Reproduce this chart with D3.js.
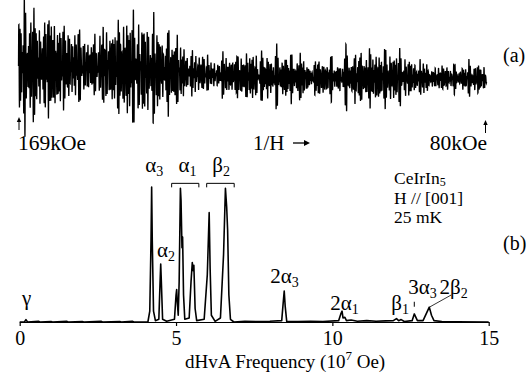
<!DOCTYPE html>
<html>
<head>
<meta charset="utf-8">
<script src="https://cdn.jsdelivr.net/npm/d3@7"></script>
<style>
	body { margin: 0; background: #fff; }
	text { font-family: "Liberation Serif", "Times New Roman", serif; fill: #000; }
</style>
</head>
<body>
<svg id="fig" width="532" height="375"></svg>
<script>
// ---- panel (b): dHvA spectrum (freq in 10^7 Oe, amplitude relative) ----
const specFreq = [0, 0.15, 0.2, 0.25, 0.6, 0.65, 1.0, 1.05, 1.5, 1.55, 2.0, 2.05, 2.6, 2.65, 3.2, 3.25, 3.6, 3.65,
	4.10, 4.16, 4.20, 4.22, 4.24, 4.28, 4.34, 4.45, 4.49, 4.51, 4.53, 4.57, 4.70, 4.95, 5.00, 5.02, 5.04, 5.07,
	5.10, 5.14, 5.16, 5.19, 5.21, 5.24, 5.28, 5.42, 5.48, 5.52, 5.55, 5.57, 5.61, 5.66, 5.90, 6.00, 6.06, 6.09,
	6.13, 6.25, 6.42, 6.52, 6.58, 6.62, 6.65, 6.69, 6.74, 6.85, 7.2, 7.6, 8.0, 8.38, 8.43, 8.46, 8.49, 8.54,
	8.9, 9.3, 9.7, 10.2, 10.27, 10.31, 10.34, 10.4, 10.45, 10.6, 10.8, 11.1, 11.4, 11.7, 11.95, 12.05, 12.12,
	12.2, 12.3, 12.55, 12.62, 12.66, 12.72, 12.9, 13.0, 13.1, 13.17, 13.25, 13.5, 14.0, 15.0];
const specAmp = [0, 0, 0.018, 0, 0.005, 0, 0.004, 0, 0.005, 0, 0.004, 0, 0.005, 0, 0.004, 0, 0.006, 0,
	0, 0.08, 0.6, 1.0, 0.6, 0.08, 0.01, 0.02, 0.3, 0.43, 0.3, 0.02, 0.005, 0.02, 0.2, 0.24, 0.15, 0.05,
	0.3, 0.99, 0.9, 0.55, 0.63, 0.2, 0.02, 0.03, 0.3, 0.44, 0.38, 0.42, 0.1, 0.01, 0.02, 0.35, 0.81, 0.4,
	0.05, 0.005, 0.03, 0.5, 0.99, 0.85, 0.68, 0.2, 0.02, 0, 0.005, 0.003, 0.005, 0.01, 0.15, 0.23, 0.12, 0.005,
	0.004, 0.006, 0.004, 0.01, 0.06, 0.08, 0.03, 0.035, 0.01, 0.015, 0.006, 0.01, 0.006, 0.008, 0.01, 0.025, 0.01,
	0.018, 0.004, 0.01, 0.06, 0.04, 0.01, 0.01, 0.06, 0.11, 0.05, 0.01, 0.004, 0.002, 0];
const freqTicks = [0, 5, 10, 15];

// main dHvA branches used to build the oscillation trace of panel (a)
const branchFreq = [4.22, 4.51, 5.02, 5.15, 5.21, 5.55, 6.06, 6.59, 6.65, 8.46];
const branchAmp = [1.0, 0.43, 0.24, 0.99, 0.63, 0.44, 0.81, 0.99, 0.68, 0.23];

// ---- panel (a): envelope of the raw signal vs field (kOe) ----
const fieldHigh = 169;
const fieldLow = 80;
const envField = [169, 150, 140, 130, 120, 112, 105, 97, 89, 80];
const envAmp = [1.0, 1.0, 0.98, 0.89, 0.64, 0.43, 0.43, 0.57, 0.45, 0.29];
const envOffset = [0, 0, 0.02, 0.07, 0.13, 0.18, 0.2, 0.21, 0.21, 0.23];

// peak labels: [text, subscript, freq anchor, amplitude anchor]
const peakLabels = [
	['γ', '', 0.22, 0.126],
	['α', '3', 4.3, 1.11],
	['α', '1', 5.37, 1.11],
	['β', '2', 6.44, 1.11],
	['α', '2', 4.68, 0.48],
	['2α', '3', 8.47, 0.29],
	['2α', '1', 10.39, 0.089],
	['β', '1', 12.17, 0.089],
	['3α', '3', 12.88, 0.207],
	['2β', '2', 13.88, 0.207],
];
const brackets = [[4.86, 5.73], [5.98, 6.86]];
const sampleLines = ['CeIrIn', 'H // [001]', '25 mK'];

const svg = d3.select('#fig');

// ---------- panel (a) ----------
const xSig = d3.scaleLinear().domain([1 / fieldHigh, 1 / fieldLow]).range([18.5, 486.5]);
const ySig = d3.scaleLinear().domain([-1, 1]).range([122, 10]);
const envScale = d3.scaleLinear().domain(envField).range(envAmp);
const offScale = d3.scaleLinear().domain(envField).range(envOffset);

const nSamp = 5000;
const t0 = 1 / fieldHigh;
const t1 = 1 / fieldLow;
const raw = d3.range(nSamp + 1).map((i) => {
	const t = t0 + (t1 - t0) * i / nSamp;
	let s = 0;
	branchFreq.forEach((f, k) => {
		s += branchAmp[k] * Math.cos(2 * Math.PI * f * 1e4 * t + k * 2.4);
	});
	return { t, s };
});
const norm = d3.quantile(raw.map((d) => Math.abs(d.s)).sort(d3.ascending), 0.99);
const sigLine = d3.line()
	.x((d) => xSig(d.t))
	.y((d) => {
		const h = 1 / d.t;
		return ySig(-offScale(h) + envScale(h) * d.s / norm);
	});
svg.append('path')
	.datum(raw)
	.attr('d', sigLine)
	.attr('fill', 'none')
	.attr('stroke', '#000')
	.attr('stroke-width', 1.3);

svg.append('text').attr('x', 503).attr('y', 62).attr('font-size', 20).text('(a)');

function upArrow(x, yBot, yTop) {
	svg.append('line')
		.attr('x1', x).attr('x2', x).attr('y1', yBot).attr('y2', yTop + 4)
		.attr('stroke', '#000').attr('stroke-width', 1);
	svg.append('polygon')
		.attr('points', `${x - 2.2},${yTop + 5} ${x + 2.2},${yTop + 5} ${x},${yTop}`)
		.attr('fill', '#000');
}
upArrow(xSig(1 / fieldHigh) + 0.5, 130, 117);
upArrow(xSig(1 / fieldLow) - 1, 133, 120);

svg.append('text').attr('x', 18).attr('y', 150).attr('font-size', 21.5).text(`${fieldHigh}kOe`);
svg.append('text').attr('x', 487).attr('y', 150).attr('font-size', 21.5)
	.attr('text-anchor', 'end').text(`${fieldLow}kOe`);
svg.append('text').attr('x', 253).attr('y', 150).attr('font-size', 21).text('1/H');
svg.append('line').attr('x1', 293).attr('x2', 305).attr('y1', 143).attr('y2', 143)
	.attr('stroke', '#000').attr('stroke-width', 1.3);
svg.append('polygon').attr('points', '304,140 310,143 304,146').attr('fill', '#000');

// ---------- panel (b) ----------
const xSpec = d3.scaleLinear().domain([0, 15]).range([19.7, 488.7]);
const ySpec = d3.scaleLinear().domain([0, 1]).range([322, 187]);

const axis = svg.append('g')
	.attr('transform', `translate(0,${ySpec(0)})`)
	.call(d3.axisBottom(xSpec).tickValues(freqTicks).tickSize(4).tickSizeOuter(0).tickPadding(5)
		.tickFormat(d3.format('d')));
axis.select('.domain').attr('stroke-width', 1.2);
axis.selectAll('.tick line').attr('stroke-width', 1.2);
axis.selectAll('.tick text')
	.attr('font-size', 20)
	.attr('font-family', '"Liberation Serif", serif');

const specLine = d3.line()
	.x((d, i) => xSpec(specFreq[i]))
	.y((d) => ySpec(d));
svg.append('path')
	.datum(specAmp)
	.attr('d', specLine)
	.attr('fill', 'none')
	.attr('stroke', '#000')
	.attr('stroke-width', 1.6)
	.attr('stroke-linejoin', 'round');

const title = svg.append('text').attr('x', 185).attr('y', 368).attr('font-size', 19);
title.append('tspan').text('dHvA Frequency (10');
title.append('tspan').attr('font-size', 13).attr('dy', -8).text('7');
title.append('tspan').attr('dy', 8).text(' Oe)');

peakLabels.forEach(([main, sub, f, a]) => {
	const t = svg.append('text')
		.attr('x', xSpec(f))
		.attr('y', ySpec(a))
		.attr('font-size', 21)
		.attr('text-anchor', 'middle');
	t.append('tspan').text(main);
	if (sub) {
		t.append('tspan').attr('font-size', 14).attr('dy', 4).text(sub);
	}
});

brackets.forEach(([f0, f1]) => {
	const yb = ySpec(1.027);
	svg.append('path')
		.attr('d', `M${xSpec(f0)},${yb + 4}V${yb}H${xSpec(f1)}V${yb + 4}`)
		.attr('fill', 'none')
		.attr('stroke', '#000')
		.attr('stroke-width', 1);
});

// little marker under 3α3 and leader line to 2β2
svg.append('line')
	.attr('x1', xSpec(12.62)).attr('x2', xSpec(12.62))
	.attr('y1', ySpec(0.15)).attr('y2', ySpec(0.113))
	.attr('stroke', '#000').attr('stroke-width', 1);
svg.append('line')
	.attr('x1', xSpec(13.8)).attr('x2', xSpec(13.12))
	.attr('y1', ySpec(0.2)).attr('y2', ySpec(0.112))
	.attr('stroke', '#000').attr('stroke-width', 0.8);

// sample info block
sampleLines.forEach((s, i) => {
	const t = svg.append('text')
		.attr('x', 394)
		.attr('y', 184 + i * 19.5)
		.attr('font-size', 17.5)
		.text(s);
	if (i === 0) {
		t.append('tspan').attr('font-size', 12).attr('dy', 1.5).text('5');
	}
});
svg.append('text').attr('x', 503).attr('y', 250).attr('font-size', 20).text('(b)');
</script>
</body>
</html>
